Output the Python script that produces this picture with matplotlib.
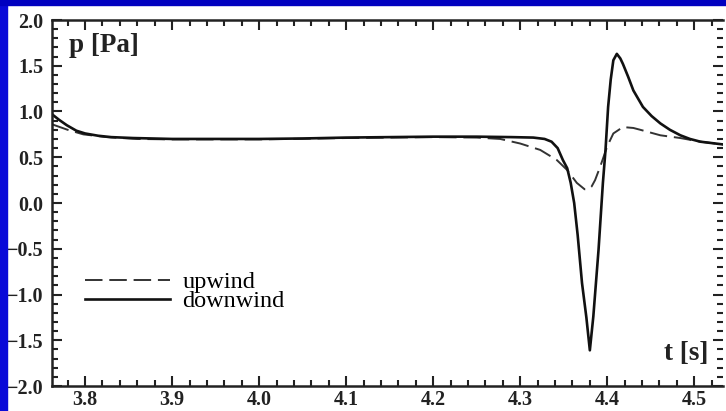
import matplotlib.pyplot as plt
from matplotlib.patches import Rectangle
from matplotlib.ticker import MultipleLocator

plt.rcParams['font.family'] = 'Liberation Serif'

# downwind (solid)
t_down = [3.762, 3.770, 3.779, 3.790, 3.800, 3.815, 3.830, 3.855, 3.900, 3.950,
          4.000, 4.050, 4.100, 4.150, 4.200, 4.250, 4.290, 4.315, 4.328, 4.336,
          4.343, 4.349, 4.354, 4.358, 4.362, 4.366, 4.371, 4.376, 4.380, 4.384,
          4.390, 4.395, 4.398, 4.401, 4.404, 4.407, 4.411, 4.415, 4.418, 4.424,
          4.430, 4.441, 4.451, 4.461, 4.472, 4.484, 4.495, 4.507, 4.520, 4.533]
p_down = [0.97, 0.91, 0.85, 0.79, 0.76, 0.735, 0.72, 0.71, 0.70, 0.70,
          0.70, 0.705, 0.715, 0.72, 0.725, 0.725, 0.72, 0.715, 0.70, 0.67,
          0.60, 0.47, 0.38, 0.22, 0.0, -0.35, -0.875, -1.25, -1.61, -1.24,
          -0.51, 0.22, 0.58, 1.05, 1.35, 1.56, 1.63, 1.58, 1.52, 1.38,
          1.23, 1.05, 0.95, 0.87, 0.80, 0.74, 0.70, 0.67, 0.655, 0.64]

# upwind (dashed)
t_up = [3.762, 3.780, 3.798, 3.825, 3.860, 3.900, 4.000, 4.100, 4.200, 4.250,
        4.277, 4.300, 4.323, 4.342, 4.354, 4.365, 4.374, 4.378, 4.382, 4.386,
        4.392, 4.400, 4.407, 4.418, 4.430, 4.438, 4.461, 4.484, 4.507, 4.533]
p_up = [0.86, 0.80, 0.75, 0.72, 0.70, 0.695, 0.695, 0.71, 0.72, 0.715,
        0.70, 0.65, 0.58, 0.47, 0.36, 0.22, 0.15, 0.15, 0.18, 0.25,
        0.40, 0.62, 0.76, 0.83, 0.82, 0.80, 0.74, 0.71, 0.67, 0.64]

fig = plt.figure(figsize=(7.26, 4.11), dpi=100)
fig.patches.append(Rectangle((0, 0), 7 / 726, 1, transform=fig.transFigure, color='#0a0ad8', zorder=0))
fig.patches.append(Rectangle((0, 1 - 5 / 411), 1, 5 / 411, transform=fig.transFigure, color='#0000c0', zorder=0))

ax = fig.add_axes([52 / 726, 25 / 411, 671 / 726, 366 / 411])
ax.plot(t_up, p_up, color='#333333', linewidth=1.4, dashes=(9, 3.5), label='upwind')
ax.plot(t_down, p_down, color='#111111', linewidth=1.9, label='downwind')

ax.set_xlim(3.762, 4.533)
ax.set_ylim(-2.0, 2.0)
ax.xaxis.set_major_locator(MultipleLocator(0.1))
ax.xaxis.set_minor_locator(MultipleLocator(0.02))
ax.yaxis.set_major_locator(MultipleLocator(0.5))
ax.yaxis.set_minor_locator(MultipleLocator(0.1))
ax.tick_params(which='both', direction='in', top=True, right=True, width=1.5, color='#222222')
ax.tick_params(which='major', length=7)
ax.tick_params(which='minor', length=4)
ax.tick_params(axis='x', pad=3)
ax.tick_params(axis='y', pad=6)
for lab in ax.get_xticklabels() + ax.get_yticklabels():
    lab.set_fontsize(14.5)
    lab.set_fontweight('bold')
    lab.set_color('#222222')
for side in ['left', 'bottom', 'top']:
    ax.spines[side].set_linewidth(1.8)
    ax.spines[side].set_color('#222222')
ax.spines['right'].set_visible(False)

ax.text(0.025, 0.93, 'p [Pa]', transform=ax.transAxes, fontsize=19.5, fontweight='bold',
        ha='left', va='center', color='#222222')
ax.text(0.978, 0.09, 't [s]', transform=ax.transAxes, fontsize=19.5, fontweight='bold',
        ha='right', va='center', color='#222222')

ax.legend(loc='lower left', bbox_to_anchor=(0.035, 0.175), frameon=False, fontsize=17.5,
          handlelength=3.5, handletextpad=0.5, labelspacing=-0.12, borderaxespad=0)

fig.savefig('out.png', dpi=100)
